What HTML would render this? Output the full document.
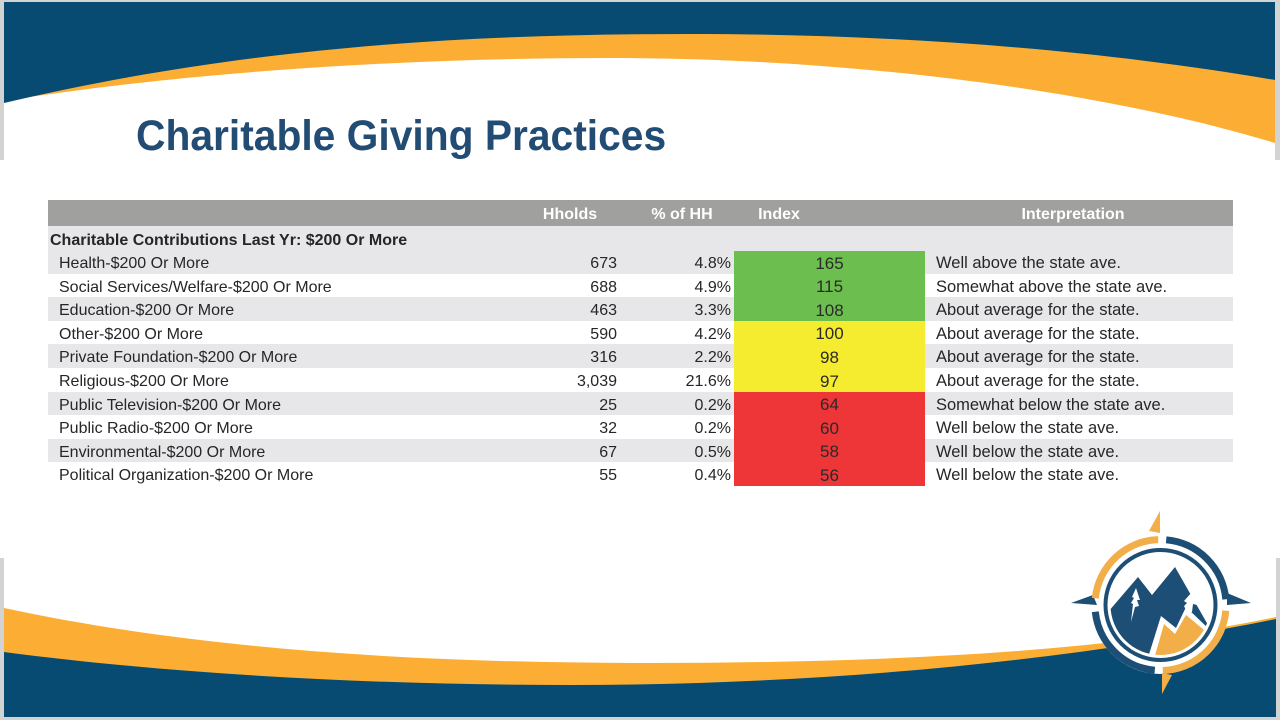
<!DOCTYPE html>
<html>
<head>
<meta charset="utf-8">
<style>
  html,body{margin:0;padding:0;}
  body{width:1280px;height:720px;position:relative;overflow:hidden;background:#d3d3d3;font-family:"Liberation Sans",Arial,sans-serif;}
  svg.bg{position:absolute;left:0;top:0;}
  .t{position:absolute;white-space:nowrap;color:#262626;font-size:16px;}
  .r{margin-top:2px;line-height:23.6px;}
  .row{position:absolute;left:48px;width:1185px;}
  .g{background:#e7e7e9;}
  .hdr{position:absolute;left:48px;top:200px;width:1185px;height:26px;background:#a0a09f;}
  .h{position:absolute;top:201px;height:26px;line-height:27px;color:#fff;font-weight:bold;font-size:16px;text-align:center;white-space:nowrap;}
  .idx{position:absolute;left:734px;width:191px;text-align:center;font-size:17px;color:#2a2a2a;margin-top:1.5px;line-height:23.6px;}
  .n{left:517px;width:100px;text-align:right;}
  .p{left:631px;width:100px;text-align:right;}
  .i{left:936px;font-size:16.5px;}
  .l{left:59px;}
</style>
</head>
<body>
<svg class="bg" width="1280" height="720" viewBox="0 0 1280 720">
  <rect x="4" y="2" width="1271" height="158" fill="#ffffff"/>
  <path d="M4 2 H1275 V143 C1100 90 850 58 612 58 C420 58 200 70 4 101 Z" fill="#fbae33"/>
  <path d="M4 2 H1275 V80 C1100 50 900 34 690 34 C480 34 250 45 4 103 Z" fill="#074b72"/>
  <rect x="0" y="160" width="1280" height="398" fill="#ffffff"/>
  <rect x="4" y="558" width="1272" height="159" fill="#ffffff"/>
  <path d="M4 608 C200 650 420 663 650 663 C900 663 1120 650 1276 617 V717 H4 Z" fill="#fbae33"/>
  <path d="M4 652 C180 675 380 685 570 685 C800 685 1050 665 1276 619 V717 H4 Z" fill="#074b72"/>

  <defs>
    <clipPath id="inner"><circle cx="1160.5" cy="605" r="50"/></clipPath>
  </defs>
  <circle cx="1160.5" cy="605" r="69" fill="#ffffff"/>
  <polygon points="1160,511 1149,531 1160,533" fill="#f2ae48"/>
  <polygon points="1162,694 1162,673 1172,675" fill="#f2ae48"/>
  <polygon points="1071,603 1093,595 1097,605" fill="#1d4e75"/>
  <polygon points="1251,603 1227,593 1227,605" fill="#1d4e75"/>
  <path d="M1158.2 539.6 A65.5 65.5 0 0 0 1095.3 598.2" fill="none" stroke="#f2ae48" stroke-width="7"/>
  <path d="M1166.2 539.8 A65.5 65.5 0 0 1 1225.8 599.3" fill="none" stroke="#1d4e75" stroke-width="7"/>
  <path d="M1225.8 610.7 A65.5 65.5 0 0 1 1162.8 670.5" fill="none" stroke="#f2ae48" stroke-width="7"/>
  <path d="M1154.8 670.2 A65.5 65.5 0 0 1 1095.3 611.8" fill="none" stroke="#1d4e75" stroke-width="7"/>
  <circle cx="1160.5" cy="605" r="55" fill="#ffffff" stroke="#1d4e75" stroke-width="4"/>
  <g clip-path="url(#inner)">
    <polygon points="1085,680 1108,612 1138,577 1152,595 1175,567 1212,632 1186,607 1176,628 1161,616 1141,680" fill="#1d4e75"/>
    <polygon points="1148,680 1164,624 1175,634 1186,615 1216,640 1220,690" fill="#f2ae48"/>
    <polygon points="1136,588 1140,600 1137,600 1139,606 1135,607 1131,622 1133,604 1131,603 1134,598 1132,597" fill="#ffffff"/>
    <polygon points="1192,592 1197,605 1193,604 1192,612 1187,612 1184,606 1187,603 1184,601" fill="#ffffff"/>
  </g>
</svg>

<div class="t" style="left:136px;top:115px;font-size:43px;line-height:43px;font-weight:bold;color:#224c74;transform:scaleX(0.948);transform-origin:0 0;">Charitable Giving Practices</div>

<div class="hdr"></div>
<div class="h" style="left:520px;width:100px;">Hholds</div>
<div class="h" style="left:632px;width:100px;">% of HH</div>
<div class="h" style="left:729px;width:100px;">Index</div>
<div class="h" style="left:1003px;width:140px;">Interpretation</div>

<div class="row g" style="top:226px;height:24px;"></div>
<div class="t" style="left:50px;top:228.5px;line-height:24px;font-weight:bold;">Charitable Contributions Last Yr: $200 Or More</div>

<div class="row g" style="top:250px;height:23.6px;"></div>
<div class="row g" style="top:297.2px;height:23.6px;"></div>
<div class="row g" style="top:344.4px;height:23.6px;"></div>
<div class="row g" style="top:391.6px;height:23.6px;"></div>
<div class="row g" style="top:438.8px;height:23.6px;"></div>

<div style="position:absolute;left:734px;top:251px;width:191px;height:70px;background:#6cbf4f;"></div>
<div style="position:absolute;left:734px;top:321px;width:191px;height:70.6px;background:#f5ec2f;"></div>
<div style="position:absolute;left:734px;top:391.6px;width:191px;height:94.8px;background:#ee3538;"></div>

<div class="t r l" style="top:250px;">Health-$200 Or More</div>
<div class="t r n" style="top:250px;">673</div>
<div class="t r p" style="top:250px;">4.8%</div>
<div class="idx" style="top:250px;">165</div>
<div class="t r i" style="top:250px;">Well above the state ave.</div>

<div class="t r l" style="top:273.6px;">Social Services/Welfare-$200 Or More</div>
<div class="t r n" style="top:273.6px;">688</div>
<div class="t r p" style="top:273.6px;">4.9%</div>
<div class="idx" style="top:273.6px;">115</div>
<div class="t r i" style="top:273.6px;">Somewhat above the state ave.</div>

<div class="t r l" style="top:297.2px;">Education-$200 Or More</div>
<div class="t r n" style="top:297.2px;">463</div>
<div class="t r p" style="top:297.2px;">3.3%</div>
<div class="idx" style="top:297.2px;">108</div>
<div class="t r i" style="top:297.2px;">About average for the state.</div>

<div class="t r l" style="top:320.8px;">Other-$200 Or More</div>
<div class="t r n" style="top:320.8px;">590</div>
<div class="t r p" style="top:320.8px;">4.2%</div>
<div class="idx" style="top:320.8px;">100</div>
<div class="t r i" style="top:320.8px;">About average for the state.</div>

<div class="t r l" style="top:344.4px;">Private Foundation-$200 Or More</div>
<div class="t r n" style="top:344.4px;">316</div>
<div class="t r p" style="top:344.4px;">2.2%</div>
<div class="idx" style="top:344.4px;">98</div>
<div class="t r i" style="top:344.4px;">About average for the state.</div>

<div class="t r l" style="top:368px;">Religious-$200 Or More</div>
<div class="t r n" style="top:368px;">3,039</div>
<div class="t r p" style="top:368px;">21.6%</div>
<div class="idx" style="top:368px;">97</div>
<div class="t r i" style="top:368px;">About average for the state.</div>

<div class="t r l" style="top:391.6px;">Public Television-$200 Or More</div>
<div class="t r n" style="top:391.6px;">25</div>
<div class="t r p" style="top:391.6px;">0.2%</div>
<div class="idx" style="top:391.6px;">64</div>
<div class="t r i" style="top:391.6px;">Somewhat below the state ave.</div>

<div class="t r l" style="top:415.2px;">Public Radio-$200 Or More</div>
<div class="t r n" style="top:415.2px;">32</div>
<div class="t r p" style="top:415.2px;">0.2%</div>
<div class="idx" style="top:415.2px;">60</div>
<div class="t r i" style="top:415.2px;">Well below the state ave.</div>

<div class="t r l" style="top:438.8px;">Environmental-$200 Or More</div>
<div class="t r n" style="top:438.8px;">67</div>
<div class="t r p" style="top:438.8px;">0.5%</div>
<div class="idx" style="top:438.8px;">58</div>
<div class="t r i" style="top:438.8px;">Well below the state ave.</div>

<div class="t r l" style="top:462.4px;">Political Organization-$200 Or More</div>
<div class="t r n" style="top:462.4px;">55</div>
<div class="t r p" style="top:462.4px;">0.4%</div>
<div class="idx" style="top:462.4px;">56</div>
<div class="t r i" style="top:462.4px;">Well below the state ave.</div>

</body>
</html>
